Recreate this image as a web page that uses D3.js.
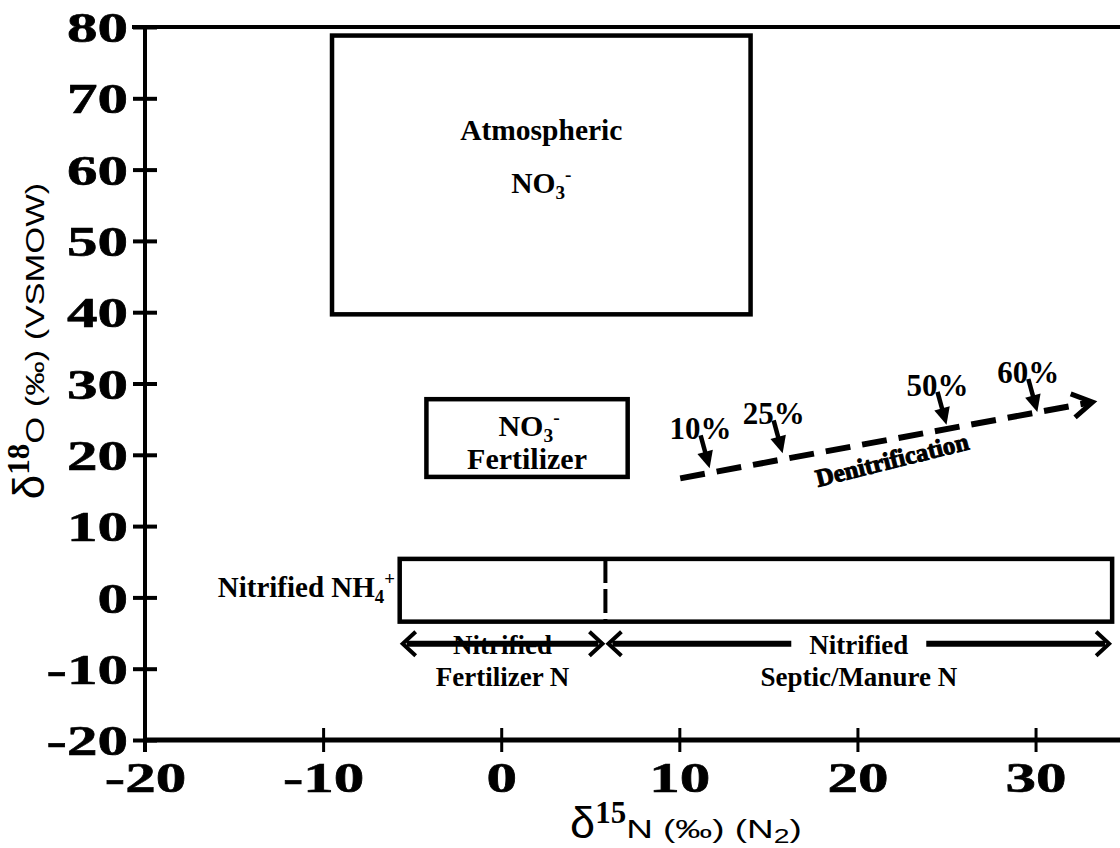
<!DOCTYPE html>
<html><head><meta charset="utf-8">
<script src="https://cdn.jsdelivr.net/npm/d3@7"></script>
<style>body{margin:0;background:#fff} svg{display:block}</style>
</head><body>
<svg id="c" width="1120" height="848"></svg>
<script>
// ---- data ----
const xTicks = [-20, -10, 0, 10, 20, 30];
const yTicks = [-20, -10, 0, 10, 20, 30, 40, 50, 60, 70, 80];
const boxNames = ["Atmospheric", "NO3- Fertilizer", "Nitrified NH4+"];
const boxX0 = [-9.5, -4.2, -5.7];
const boxX1 = [14.0, 7.1, 34.3];
const boxY0 = [39.7, 16.9, -3.4];
const boxY1 = [78.8, 27.8, 5.4];
const nitrifiedSplit = 5.85;
const denitX = [10.05, 33.2];
const denitY = [16.7, 27.4];
const pctLabels = ["10%", "25%", "50%", "60%"];
const pctX = [11.7, 15.8, 25.0, 30.1];
const pctY = [18.1, 20.2, 24.2, 26.0];
const rangeNames = ["Fertilizer N", "Septic/Manure N"];
const rangeX0 = [-5.7, 5.85];
const rangeX1 = [5.85, 34.3];
const rangeY = -6.5;

// ---- drawing ----
const svg = d3.select("#c");
const x = d3.scaleLinear().domain([-20, 35]).range([145, 1124.6]);
const y = d3.scaleLinear().domain([-20, 80]).range([740, 27]);
const serif = "'Liberation Serif','Times New Roman',serif";
const sans = "'Liberation Sans',Arial,sans-serif";

// top border
svg.append("line").attr("x1", 132).attr("x2", 1120).attr("y1", y(80)).attr("y2", y(80))
  .attr("stroke", "#000").attr("stroke-width", 4);

// axes
const fmt = d => String(d);
const gx = svg.append("g").attr("transform", `translate(0,${y(-20)})`)
  .call(d3.axisBottom(x).tickValues(xTicks).tickSize(12).tickFormat(fmt));
gx.select(".domain").attr("stroke-width", 5).attr("d", `M${x(-20)},0H1120`);
gx.selectAll(".tick line").attr("y1", -12).attr("y2", 12).attr("stroke-width", 3);
gx.selectAll(".tick text").attr("y", 0).attr("dy", 0)
  .attr("transform", "translate(0,52) scale(1.42,1)")
  .attr("font-family", serif).attr("font-weight", "bold").attr("font-size", 43).attr("fill", "#000")
  .attr("stroke", "#000").attr("stroke-width", 0.6);

const gy = svg.append("g").attr("transform", `translate(${x(-20)},0)`)
  .call(d3.axisLeft(y).tickValues(yTicks).tickSize(12).tickFormat(fmt));
gy.select(".domain").attr("stroke-width", 4).attr("d", `M0,${y(80)}V${y(-20) + 12}`);
gy.selectAll(".tick line").attr("x1", -12).attr("x2", 12).attr("stroke-width", 4);
gy.selectAll(".tick text").attr("x", 0).attr("dy", "0.34em")
  .attr("transform", "translate(-17,0) scale(1.42,1)")
  .attr("font-family", serif).attr("font-weight", "bold").attr("font-size", 43).attr("fill", "#000")
  .attr("stroke", "#000").attr("stroke-width", 0.6);

// boxes
const boxes = boxNames.map((n, i) => ({n, x0: boxX0[i], x1: boxX1[i], y0: boxY0[i], y1: boxY1[i]}));
svg.selectAll("rect.box").data(boxes).join("rect").attr("class", "box")
  .attr("x", d => x(d.x0)).attr("y", d => y(d.y1))
  .attr("width", d => x(d.x1) - x(d.x0)).attr("height", d => y(d.y0) - y(d.y1))
  .attr("fill", "none").attr("stroke", "#000").attr("stroke-width", 4.5);

// dashed split line
svg.append("line").attr("x1", x(nitrifiedSplit)).attr("x2", x(nitrifiedSplit))
  .attr("y1", y(boxes[2].y1)).attr("y2", y(boxes[2].y0))
  .attr("stroke", "#000").attr("stroke-width", 4).attr("stroke-dasharray", "24,6");

function txt(px, py, size, anchor) {
  return svg.append("text").attr("x", px).attr("y", py).attr("font-family", serif)
    .attr("font-weight", "bold").attr("font-size", size).attr("text-anchor", anchor || "middle").attr("fill", "#000");
}
function chem(t, base, sub, sup, size) {
  t.append("tspan").text(base);
  t.append("tspan").attr("font-size", size * 0.65).attr("dy", size * 0.2).text(sub);
  t.append("tspan").attr("font-size", size * 0.65).attr("dy", -size * 0.6).text(sup);
}

// Atmospheric box labels
const ac = (x(boxes[0].x0) + x(boxes[0].x1)) / 2;
txt(ac, 140, 29.5).text("Atmospheric");
chem(txt(ac, 193, 29.5), "NO", "3", "-", 29.5);

// fertilizer box labels
const fc = (x(boxes[1].x0) + x(boxes[1].x1)) / 2;
chem(txt(fc + 2, 436, 30), "NO", "3", "-", 30);
txt(fc, 469, 30).text("Fertilizer");

// Nitrified NH4+
chem(txt(395, 597, 29, "end"), "Nitrified NH", "4", "+", 29);

// arrowhead helpers
function vHead(px, py, ang, len, hw, sw) {
  const c = Math.cos(ang), s = Math.sin(ang);
  const p1 = [px - len * c - hw * s, py - len * s + hw * c];
  const p2 = [px - len * c + hw * s, py - len * s - hw * c];
  svg.append("path").attr("d", `M${p1}L${px},${py}L${p2}`)
    .attr("fill", "none").attr("stroke", "#000").attr("stroke-width", sw).attr("stroke-linejoin", "miter");
}
function fHead(px, py, ang, len, hw) {
  const c = Math.cos(ang), s = Math.sin(ang);
  const p1 = [px - len * c - hw * s, py - len * s + hw * c];
  const p2 = [px - len * c + hw * s, py - len * s - hw * c];
  svg.append("path").attr("d", `M${p1}L${px},${py}L${p2}Z`).attr("fill", "#000");
}

// bottom range arrows
const ry = y(rangeY);
rangeNames.forEach((n, i) => {
  const a = x(rangeX0[i]) + 3, b = x(rangeX1[i]) - 3;
  svg.append("line").attr("x1", a + 4).attr("x2", b - 4).attr("y1", ry).attr("y2", ry)
    .attr("stroke", "#000").attr("stroke-width", 6);
  vHead(b, ry, 0, 13, 12, 4);
  vHead(a, ry, Math.PI, 13, 12, 4);
});
// labels
const fl = (x(rangeX0[0]) + x(rangeX1[0])) / 2;
txt(fl, 654, 27).text("Nitrified");
txt(fl, 686, 27).text(rangeNames[0]);
const sl = (x(rangeX0[1]) + x(rangeX1[1])) / 2;
const t2 = txt(sl, 654, 27).text("Nitrified");
const bb = t2.node().getBBox();
svg.insert("rect", () => t2.node()).attr("x", bb.x - 18).attr("y", ry - 6).attr("width", bb.width + 36).attr("height", 12).attr("fill", "#fff");
txt(sl, 686, 27).text(rangeNames[1]);

// denitrification dashed line
const dx0 = x(denitX[0]), dy0 = y(denitY[0]), dx1 = x(denitX[1]), dy1 = y(denitY[1]);
const dang = Math.atan2(dy1 - dy0, dx1 - dx0);
svg.append("line").attr("x1", dx0).attr("y1", dy0)
  .attr("x2", dx1 - 4 * Math.cos(dang)).attr("y2", dy1 - 4 * Math.sin(dang))
  .attr("stroke", "#000").attr("stroke-width", 6).attr("stroke-dasharray", "25,12");
vHead(dx1, dy1, dang, 20, 12, 5);

txt(0, 0, 25).attr("transform", `translate(894,468) rotate(-14)`)
  .attr("stroke", "#000").attr("stroke-width", 1).text("Denitrification");

// percent arrows
pctLabels.forEach((l, i) => {
  const tx = x(pctX[i]), ty = y(pctY[i]);
  const sx = tx - 9, sy = ty - 33;
  const ang = Math.atan2(ty - sy, tx - sx);
  svg.append("line").attr("x1", sx).attr("y1", sy)
    .attr("x2", tx - 12 * Math.cos(ang)).attr("y2", ty - 12 * Math.sin(ang))
    .attr("stroke", "#000").attr("stroke-width", 4.5);
  fHead(tx, ty, ang, 17, 8);
  txt(tx - 9, ty - 29, 31).text(l);
});

// axis titles: sequential pieces
function seq(g, pieces) {
  let cx = 0;
  pieces.forEach(p => {
    const sx = p.sx || 1;
    const t = g.append("text").attr("x", 0).attr("y", 0).attr("font-family", p.f)
      .attr("font-size", p.s).attr("font-weight", p.w || "normal").attr("fill", "#000")
      .attr("transform", `translate(${cx},${p.dy || 0}) scale(${sx},1)`).text(p.t);
    cx += t.node().getComputedTextLength() * sx + (p.gap || 0);
  });
  g.selectAll("text").attr("transform", function() {
    return "translate(" + (-cx / 2) + ",0) " + d3.select(this).attr("transform");
  });
  return cx;
}
const xg = svg.append("g").attr("transform", "translate(686,838)");
seq(xg, [
  {t: "δ", f: sans, s: 45},
  {t: "15", f: serif, w: "bold", s: 31, dy: -15},
  {t: "N (‰) (N", f: sans, s: 26, sx: 1.42},
  {t: "2", f: sans, s: 20, dy: 5, sx: 1.42},
  {t: ")", f: sans, s: 26, sx: 1.42}
]);
const yg = svg.append("g").attr("transform", "translate(44,341) rotate(-90)");
seq(yg, [
  {t: "δ", f: sans, s: 44},
  {t: "18", f: serif, w: "bold", s: 31, dy: -15},
  {t: "O (‰) (VSMOW)", f: sans, s: 26, sx: 1.33}
]);
</script>
</body></html>
